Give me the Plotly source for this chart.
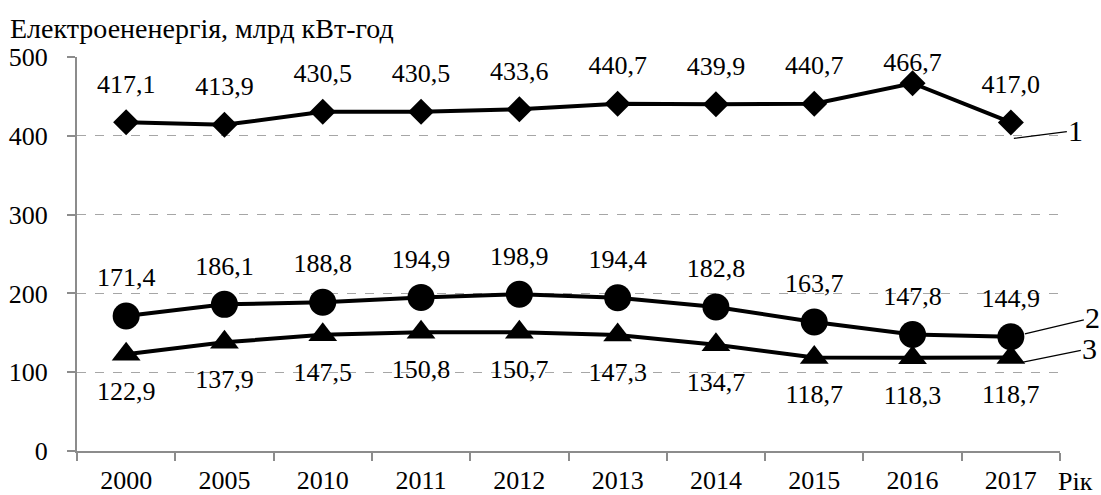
import plotly.graph_objects as go

years = ["2000", "2005", "2010", "2011", "2012", "2013", "2014", "2015", "2016", "2017"]
series1 = [417.1, 413.9, 430.5, 430.5, 433.6, 440.7, 439.9, 440.7, 466.7, 417.0]
series2 = [171.4, 186.1, 188.8, 194.9, 198.9, 194.4, 182.8, 163.7, 147.8, 144.9]
series3 = [122.9, 137.9, 147.5, 150.8, 150.7, 147.3, 134.7, 118.7, 118.3, 118.7]
series_names = ["1", "2", "3"]

y_title = "Електроененергія, млрд кВт-год"
x_title = "Рік"

FONT = "Liberation Serif, Times New Roman, DejaVu Serif, serif"

def fmt(v):
    return f"{v:.1f}".replace(".", ",")

fig = go.Figure()

styles = [("diamond", 20), ("circle", 27), ("triangle-up", 25)]
for name, vals, (sym, sz) in zip(series_names, [series1, series2, series3], styles):
    fig.add_trace(go.Scatter(
        x=years, y=vals, mode="lines+markers", name=name,
        line=dict(color="black", width=4),
        marker=dict(symbol=sym, size=sz, color="black"),
        cliponaxis=False, hoverinfo="skip",
    ))

# data labels (offsets in axis units: above for 1 and 2, below for 3)
lab_font = dict(family=FONT, size=26, color="black")
label_sets = [
    [min(v + 46, 491) for v in series1],
    [v + 46 for v in series2],
    [v - 50 for v in series3],
]
for vals, ypos in zip([series1, series2, series3], label_sets):
    fig.add_trace(go.Scatter(
        x=years, y=ypos, mode="text", text=[fmt(v) for v in vals],
        textposition="middle center", textfont=lab_font,
        cliponaxis=False, hoverinfo="skip", showlegend=False,
    ))

annotations = []
# series number leader labels
num_font = dict(family=FONT, size=30, color="black")
leaders = [(series1[-1], 3, -16, 62, -8),
           (series2[-1], 14, 3, 68, -16),
           (series3[-1], 11, -5, 68, -14)]
last_idx = len(years) - 1
for name, (v, xs, ys, ax, ay) in zip(series_names, leaders):
    annotations.append(dict(xref="x", yref="y", x=last_idx, y=v, xshift=xs, yshift=ys,
                            text=name, showarrow=True, arrowhead=0, arrowwidth=1.2,
                            arrowcolor="black", ax=ax, ay=ay, font=num_font))

annotations.append(dict(xref="paper", yref="paper", x=1, y=0, xanchor="left", yanchor="middle",
                        xshift=-4, yshift=-30, text=x_title, showarrow=False,
                        font=dict(family=FONT, size=26, color="black")))
annotations.append(dict(xref="paper", yref="paper", x=-77/983, y=1, xanchor="left", yanchor="middle",
                        xshift=8, yshift=29, text=y_title, showarrow=False,
                        font=dict(family=FONT, size=28, color="black")))

fig.update_layout(
    width=1101, height=495,
    margin=dict(l=77, r=41, t=57, b=44),
    paper_bgcolor="white", plot_bgcolor="white",
    showlegend=False,
    font=dict(family=FONT, size=26, color="black"),
    annotations=annotations,
)
fig.update_xaxes(
    type="category", range=[-0.5, 9.5], automargin=False,
    showline=True, linecolor="#8c8c8c", linewidth=2,
    ticks="outside", tickson="boundaries", ticklen=8, tickcolor="#8c8c8c", tickwidth=2,
    showgrid=False, zeroline=False,
    tickfont=dict(family=FONT, size=26, color="black"),
    ticklabelstandoff=5,
)
fig.update_yaxes(
    range=[0, 500], tickvals=[0, 100, 200, 300, 400, 500], automargin=False,
    showline=True, linecolor="#8c8c8c", linewidth=2,
    ticks="outside", ticklen=8, tickcolor="#8c8c8c", tickwidth=2,
    showgrid=True, gridcolor="#a6a6a6", griddash="dash", gridwidth=1,
    zeroline=False,
    tickfont=dict(family=FONT, size=26, color="black"),
    ticklabelstandoff=14,
)

fig.write_html("out.html", config={"displayModeBar": False},
               post_script="document.body.style.margin='0';")
